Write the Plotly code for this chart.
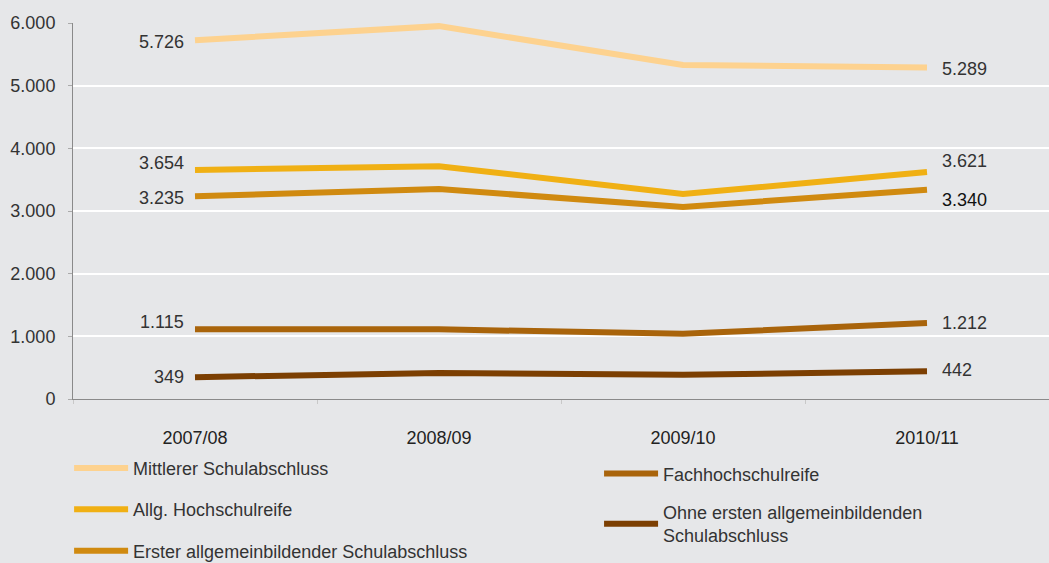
import plotly.graph_objects as go

years = ["2007/08", "2008/09", "2009/10", "2010/11"]

series_names = [
    "Mittlerer Schulabschluss",
    "Allg. Hochschulreife",
    "Erster allgemeinbildender Schulabschluss",
    "Fachhochschulreife",
    "Ohne ersten allgemeinbildenden<br>Schulabschluss",
]
mittlerer = [5726, 5950, 5330, 5289]
allg_hsr = [3654, 3715, 3270, 3621]
erster = [3235, 3350, 3065, 3340]
fhr = [1115, 1112, 1040, 1212]
ohne = [349, 415, 385, 442]

colors = ["#FDD28F", "#F0B014", "#D08A10", "#A9640B", "#7C3F02"]
# label nudges (px) for start / end value labels
start_shift = [-2, 7, -2, 7, 0]
end_shift = [-1, 11, -10, 0, 1]
legend_ids = ["legend", "legend", "legend", "legend2", "legend2"]

values = [mittlerer, allg_hsr, erster, fhr, ohne]


def fmt(v):
    return f"{v:,}".replace(",", ".")


fig = go.Figure()
annotations = []
for i, (name, vals) in enumerate(zip(series_names, values)):
    fig.add_trace(go.Scatter(
        x=years, y=vals, mode="lines", name=name,
        line=dict(color=colors[i], width=6),
        legend=legend_ids[i], legendgroup=f"g{i}",
        hoverinfo="skip",
    ))
    annotations.append(dict(
        x=years[0], y=vals[0], text=fmt(vals[0]), showarrow=False,
        xanchor="right", xshift=-9, yshift=start_shift[i],
        font=dict(size=18, color="#333333"),
    ))
    annotations.append(dict(
        x=years[-1], y=vals[-1], text=fmt(vals[-1]), showarrow=False,
        xanchor="left", xshift=13, yshift=end_shift[i],
        font=dict(size=18, color="#111111" if i == 2 else "#333333"),
    ))

fig.update_layout(
    width=1049, height=563,
    paper_bgcolor="#E6E7E9", plot_bgcolor="#E6E7E9",
    font=dict(family="Liberation Sans, Arial, sans-serif", size=17, color="#333333"),
    separators=",.",
    margin=dict(l=73, r=0, t=23, b=164, autoexpand=False),
    annotations=annotations,
    legend=dict(
        x=-0.004, xanchor="left", y=-0.135, yanchor="top",
        orientation="v", bgcolor="rgba(0,0,0,0)",
        font=dict(size=18, color="#333333"), tracegroupgap=15,
        itemwidth=54,
    ),
    legend2=dict(
        x=0.539, xanchor="left", y=-0.15, yanchor="top",
        orientation="v", bgcolor="rgba(0,0,0,0)",
        font=dict(size=18, color="#333333"), tracegroupgap=12,
        itemwidth=54,
    ),
    showlegend=True,
)

fig.update_xaxes(
    type="category", range=[-0.5, 3.5],
    showgrid=False, showline=True, linecolor="#8A8A8A", linewidth=1,
    ticks="outside", tickson="boundaries", ticklen=4, tickcolor="#C8C8C8",
    ticklabelstandoff=22, tickfont=dict(size=18, color="#222222"),
    fixedrange=True,
)
fig.update_yaxes(
    range=[0, 6000], dtick=1000, tickformat=",d",
    showgrid=True, gridcolor="#FFFFFF", gridwidth=1.5,
    showline=True, linecolor="#8A8A8A", linewidth=1,
    ticks="outside", ticklen=4, tickcolor="#AAAAAA",
    ticklabelstandoff=9, tickfont=dict(size=18, color="#333333"),
    zeroline=False, fixedrange=True,
)

fig.write_html(
    "out.html",
    config={"displayModeBar": False},
    post_script="document.body.style.margin='0';",
)
